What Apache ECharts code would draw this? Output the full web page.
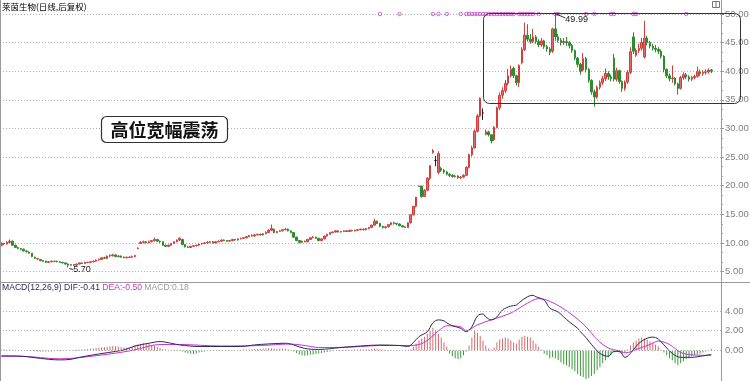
<!DOCTYPE html>
<html><head><meta charset="utf-8">
<script src="https://cdn.jsdelivr.net/npm/echarts@6/dist/echarts.min.js"></script>
<style>html,body{margin:0;padding:0;background:#fff}#c{width:750px;height:381px}</style>
</head><body><div id="c"></div>
<script>
// [open, close, low, high]
const candles = [
[9.6,9.9,9.4,10.1],[9.9,9.8,9.6,10.0],[9.8,10.1,9.7,10.3],[10.1,10.3,9.9,10.6],[10.3,9.6,9.5,10.4],[9.6,9.2,9.1,9.7],[9.2,9.0,8.9,9.3],[9.0,8.9,8.7,9.1],[8.9,8.6,8.5,9.0],[8.6,8.5,8.3,8.7],
[8.4,8.2,8.1,8.5],[8.2,7.6,7.5,8.2],[7.5,7.3,7.2,7.6],[7.2,7.25,7.0,7.3],[7.1,6.9,6.8,7.2],[6.9,6.8,6.7,7.0],[6.8,6.6,6.5,6.9],[6.6,6.7,6.5,6.8],[6.7,6.8,6.6,6.9],[6.75,6.8,6.7,6.9],
[6.8,6.7,6.6,6.9],[6.7,6.6,6.5,6.8],[6.6,6.5,6.4,6.7],[6.5,6.3,6.2,6.6],[6.3,6.1,5.7,6.4],[6.1,6.2,6.0,6.3],[6.2,6.1,6.0,6.3],[6.1,6.3,6.0,6.4],[6.3,6.5,6.2,6.6],[6.5,6.4,6.3,6.6],
[6.4,6.6,6.3,6.7],[6.55,6.6,6.5,6.7],[6.6,6.7,6.5,6.8],[6.7,6.8,6.6,6.9],[6.8,7.0,6.7,7.1],[7.0,7.1,6.9,7.3],[7.1,7.4,7.0,7.5],[7.4,7.3,7.2,7.6],[7.3,7.7,7.2,7.8],[7.7,7.8,7.5,8.0],
[7.8,7.9,7.6,8.1],[7.9,7.6,7.5,8.0],[7.6,7.7,7.5,7.9],[7.7,7.5,7.4,7.8],[7.5,7.4,7.3,7.6],[7.4,7.5,7.3,7.6],[7.45,7.5,7.4,7.7],[7.5,7.6,7.4,7.8],[7.6,7.8,7.5,7.9],[9.0,9.1,8.9,9.2],
[9.9,10.1,9.8,10.3],[10.1,10.2,9.9,10.4],[10.2,10.0,9.9,10.3],[10.0,10.2,9.9,10.4],[10.2,10.4,10.1,10.5],[10.4,10.6,10.2,10.9],[10.6,10.3,10.2,10.7],[10.3,10.2,10.0,10.4],[10.2,9.6,9.5,10.3],[9.6,9.4,9.3,9.7],
[9.4,9.6,9.3,9.7],[9.6,9.9,9.5,10.0],[9.9,10.2,9.8,10.3],[10.2,10.5,10.1,10.6],[10.5,10.8,10.3,11.0],[10.6,9.7,9.6,10.7],[9.7,9.3,9.2,9.8],[9.3,9.2,9.1,9.4],[9.2,9.4,9.1,9.5],[9.4,9.5,9.3,9.6],
[9.5,9.6,9.4,9.7],[9.6,9.8,9.5,9.9],[9.8,9.9,9.7,10.0],[9.9,10.0,9.8,10.1],[10.0,10.1,9.9,10.3],[10.1,10.2,10.0,10.3],[10.2,10.0,9.9,10.3],[10.0,10.2,9.9,10.3],[10.2,10.3,10.1,10.4],[10.3,10.5,10.2,10.6],
[10.5,10.4,10.3,10.6],[10.4,10.3,10.2,10.5],[10.3,10.4,10.2,10.5],[10.4,10.6,10.3,10.7],[10.6,10.5,10.4,10.7],[10.5,10.7,10.4,10.8],[10.7,10.8,10.6,10.9],[10.8,10.9,10.7,11.0],[10.9,11.1,10.8,11.2],[11.1,11.3,11.0,11.4],
[11.3,11.2,11.1,11.5],[11.2,11.4,11.1,11.5],[11.4,11.5,11.3,11.6],[11.5,11.4,11.3,11.6],[11.4,11.6,11.3,11.7],[11.6,11.8,11.5,12.0],[11.8,12.2,11.7,12.4],[12.2,12.5,12.1,13.2],[12.4,11.8,11.7,12.5],[11.8,12.0,11.7,12.1],
[12.0,12.1,11.9,12.2],[12.1,12.3,12.0,12.4],[12.3,12.4,12.2,12.6],[12.4,12.1,12.0,12.5],[12.1,11.8,11.7,12.2],[11.8,11.0,10.9,11.9],[11.0,10.4,10.3,11.1],[10.4,10.1,9.9,10.5],[10.1,10.3,10.0,10.4],[10.3,10.2,10.1,10.4],
[10.2,10.6,10.1,10.7],[10.6,10.9,10.5,11.0],[10.9,11.0,10.8,11.2],[11.0,10.8,10.7,11.1],[10.8,10.4,10.3,10.9],[10.4,10.7,10.3,10.8],[10.7,11.2,10.6,11.3],[11.2,11.5,11.1,11.6],[11.5,11.8,11.4,11.9],[11.8,11.9,11.7,12.0],
[11.9,12.1,11.8,12.2],[12.1,11.9,11.8,12.2],[11.9,12.0,11.8,12.1],[12.0,12.1,11.9,12.2],[12.1,12.0,11.9,12.2],[12.0,12.2,11.9,12.3],[12.2,12.1,12.0,12.3],[12.1,12.2,12.0,12.3],[12.2,12.3,12.1,12.4],[12.3,12.4,12.2,12.5],
[12.4,12.3,12.2,12.5],[12.3,12.5,12.2,12.6],[12.5,12.7,12.4,12.8],[12.7,13.1,12.6,13.2],[13.1,13.8,13.0,14.2],[13.8,13.4,13.3,13.9],[13.4,12.9,12.8,13.5],[12.9,12.7,12.5,13.0],[12.7,12.8,12.5,12.9],[12.8,13.2,12.7,13.3],
[13.2,13.5,13.1,13.6],[13.5,13.4,13.2,13.7],[13.4,13.3,13.1,13.5],[13.3,13.0,12.9,13.4],[13.0,12.8,12.7,13.1],[12.8,12.7,12.6,12.9],[12.7,13.5,12.6,13.6],[13.5,14.9,13.4,15.0],[14.9,16.4,14.8,16.4],[16.4,18.0,16.2,18.0],
[19.9,19.9,19.9,19.9],[19.9,18.1,17.9,20.0],[18.1,19.2,18.0,19.4],[19.2,21.3,19.0,21.5],[21.3,23.5,21.0,23.6],[25.8,26.1,25.6,26.4],[24.4,24.4,23.4,25.2],[22.3,25.6,22.0,26.0],[23.0,22.7,22.4,23.3],[22.7,22.4,22.1,22.9],
[22.4,22.0,21.8,22.6],[22.0,21.8,21.5,22.2],[21.8,21.6,21.4,22.0],[21.6,21.7,21.4,21.9],[21.7,21.4,21.2,21.8],[21.4,21.5,21.2,21.7],[21.5,21.8,21.3,22.0],[21.8,23.2,21.7,23.4],[23.2,25.4,23.0,25.6],[25.4,26.6,25.1,27.0],
[26.6,29.5,26.5,29.8],[29.5,32.2,29.3,32.5],[32.2,35.3,32.0,35.4],[32.7,32.7,31.5,33.5],[29.0,29.4,28.8,29.8],[29.4,28.9,28.6,29.6],[28.9,27.8,27.4,29.0],[28.0,30.2,27.8,30.4],[30.2,33.6,30.0,33.8],[33.6,35.8,33.2,36.3],
[35.8,36.6,35.2,37.2],[36.6,37.9,36.2,38.5],[37.9,39.2,37.5,40.4],[39.2,40.3,38.9,41.0],[40.5,39.2,38.8,40.8],[39.2,38.0,37.5,39.4],[38.0,41.0,37.2,41.2],[41.5,43.8,41.2,44.2],[43.8,46.3,43.5,48.5],[46.3,45.6,45.2,48.2],
[45.6,45.2,44.8,46.5],[45.2,46.0,44.9,47.4],[46.0,45.2,44.8,46.3],[45.2,44.6,44.2,45.6],[44.6,45.3,44.3,45.8],[45.3,44.3,43.9,45.5],[44.3,43.9,43.4,44.6],[43.9,43.3,42.8,44.2],[43.5,47.4,43.2,47.6],[47.4,46.0,45.3,49.99],
[46.0,45.4,45.0,46.5],[45.4,45.0,44.5,45.8],[45.0,45.2,44.6,45.8],[45.2,45.0,44.4,46.0],[45.0,44.5,44.0,45.3],[44.5,43.6,43.2,44.8],[43.6,42.3,41.9,43.8],[42.3,41.2,40.7,42.5],[41.2,40.0,39.4,41.5],[40.2,42.2,40.0,43.2],
[42.2,40.3,39.8,42.5],[40.3,38.4,38.0,40.6],[38.4,36.4,35.9,38.6],[36.4,35.5,33.8,36.8],[35.5,37.2,35.2,37.5],[37.2,38.0,36.8,38.4],[38.0,38.7,37.6,39.2],[38.7,39.6,38.3,40.5],[39.6,39.0,38.5,40.0],[39.0,38.7,38.2,39.4],
[42.3,38.6,38.2,43.0],[38.6,40.1,38.2,40.6],[40.1,38.2,37.8,40.3],[38.2,37.0,36.4,38.4],[37.0,38.1,36.6,38.4],[38.1,39.8,37.8,40.2],[39.8,43.4,39.5,44.2],[46.0,43.5,43.0,46.8],[42.8,43.6,42.5,44.0],[43.6,44.0,43.2,44.8],
[44.0,45.0,43.6,45.8],[42.5,45.8,42.2,48.8],[45.8,45.0,44.5,46.2],[45.0,44.4,44.0,45.3],[44.4,44.0,43.6,44.8],[44.0,43.8,43.3,44.6],[43.8,43.5,43.0,44.2],[43.5,42.6,42.2,43.8],[42.6,40.3,39.8,42.8],[40.3,39.2,38.8,40.5],
[39.2,38.7,38.2,39.6],[38.7,38.8,38.0,41.0],[38.8,37.8,37.5,39.0],[37.8,37.0,35.9,38.0],[37.0,38.9,36.8,39.2],[38.9,39.4,38.5,39.8],[39.4,39.0,38.6,39.7],[39.0,38.6,38.2,39.3],[38.6,38.9,38.3,39.2],[38.9,39.1,38.6,39.4],
[39.1,39.9,38.9,40.8],[39.9,39.6,39.2,40.3],[39.6,39.8,39.2,40.2],[39.8,39.9,39.4,40.3],[39.9,40.2,39.6,40.5],[40.2,40.0,39.7,40.4]
];

// MACD histogram, one value per candle
const macdHist = [
0.1,0.1,0.08,0.1,0.08,0.05,0.03,0.02,0,-0.02,-0.03,-0.05,
-0.08,-0.1,-0.1,-0.12,-0.12,-0.1,-0.1,-0.08,-0.06,-0.05,-0.04,-0.03,-0.02,0.02,0.05,0.08,
0.08,0.1,0.12,0.15,0.18,0.2,0.24,0.27,0.3,0.34,0.38,0.42,0.45,0.42,0.38,0.33,0.3,0.28,0.3,0.35,
0.5,0.6,0.68,0.72,0.7,0.65,0.55,0.45,0.35,0.25,0.15,
0.1,0.05,0.04,0.06,0.08,0.05,
-0.1,-0.2,-0.28,-0.33,-0.35,-0.3,-0.22,-0.15,
-0.1,-0.06,-0.03,-0.02,0,0.02,0.03,0.02,0.02,0.03,0.04,0.03,0.04,0.05,0.06,0.08,0.1,0.12,
0.14,0.15,0.16,0.18,0.2,0.22,0.22,0.18,0.18,0.2,0.2,0.18,0.12,0.05,
-0.1,-0.25,-0.4,-0.5,-0.55,-0.5,-0.45,-0.4,
-0.35,-0.32,-0.28,-0.22,-0.15,-0.1,-0.05,0,0.03,0.05,0.06,0.07,0.08,0.08,0.09,0.1,0.1,0.1,0.1,0.12,0.14,0.2,0.18,
0.12,0.08,0.05,0.04,0.04,0.03,0.02,-0.02,-0.05,-0.06,-0.04,0.1,
0.4,0.7,1.0,1.2,1.4,1.7,2.0,2.3,2.0,1.7,1.3,0.8,0.4,-0.3,-0.6,-0.8,-0.9,-0.8,-0.5,-0.1,
0.5,1.3,2.0,1.8,1.5,1.0,0.5,0.2,0.1,0.3,0.8,1.1,1.2,1.3,1.2,1.0,0.8,0.7,1.1,1.4,
1.5,1.4,1.3,1.0,0.7,0.4,0.1,-0.3,-0.5,-0.8,-0.7,-0.8,-1.0,-1.2,-1.4,-1.5,-1.7,-1.9,-2.1,-2.4,
-2.6,-2.7,-2.9,-2.8,-2.6,-2.4,-2.0,-1.7,-1.3,-1.0,-0.7,-0.4,-0.2,-0.1,-0.2,-0.3,-0.2,0.1,0.5,0.8,
1.0,1.2,1.3,1.2,1.1,0.9,0.8,0.6,0.4,0.1,-0.2,-0.5,-0.8,-1.0,-1.3,-1.5,-1.3,-1.1,-0.9,-0.8,
-0.6,-0.5,-0.4,-0.3,-0.2,-0.1,0.05,0.18
];

// DIF / DEA read at sampled candles
const difIndex = [0,7,11,17,21,25,28,35,41,44,48,53,57,61,64,71,79,86,91,96,102,105,109,114,122,129,136,143,146,148,150,153,155,157,159,160,162,165,167,169,171,173,174,176,178,180,183,185,186,189,191,192,195,197,200,202,204,207,208,210,212,215,218,220,222,224,227,229,232,234,236,238,241,244,248,251,255];
const difValue = [-0.55,-0.58,-0.7,-0.9,-0.96,-0.9,-0.7,-0.36,-0.1,0.05,0.45,0.73,0.9,0.73,0.56,0.4,0.4,0.4,0.56,0.66,0.73,0.56,0.2,0.1,0.3,0.45,0.55,0.5,0.4,0.8,1.4,1.9,2.8,3.1,3.0,2.8,2.5,2.25,1.9,2.4,3.5,3.7,3.4,3.1,3.4,4.1,4.5,4.6,4.85,5.45,5.6,5.45,5.1,4.3,3.9,3.4,2.9,2.25,1.9,1.3,0.6,-0.3,-0.6,-0.1,-0.1,-0.7,0.05,0.73,1.25,1.35,1.15,0.56,-0.3,-0.7,-0.7,-0.6,-0.41];
const deaIndex = [0,7,21,35,47,57,64,79,93,104,109,114,122,129,136,146,150,153,155,158,160,165,167,171,176,183,189,193,196,201,206,210,214,218,222,224,229,233,236,240,244,248,255];
const deaValue = [-0.6,-0.6,-0.85,-0.5,0.0,0.6,0.6,0.45,0.5,0.65,0.5,0.3,0.3,0.4,0.5,0.5,0.6,1.0,1.5,2.2,2.5,2.4,2.0,2.6,3.1,3.8,4.8,5.25,5.1,4.4,3.4,2.4,1.1,0.25,-0.05,-0.25,0.2,0.6,0.95,0.6,-0.2,-0.45,-0.5];

// signal markers along the top
const markerIndex = [136,143,155,157,160,165,167,168,169,170,171,172,173,174,175,176,177,178,179,180,181,182,183,184,186,187,188,189,190,191,193,199,200,210,213,219,220,227,228,246];
const markerLevel = 50;

const priceTicks = {min: 5, max: 50, interval: 5};
const macdTicks = {min: -3, max: 6, interval: 1, labels: [0, 2, 4]};
const macdLegend = {dif: -0.41, dea: -0.50, macd: 0.18};

const categories = candles.map((c, i) => String(i + 1)).concat(['', '', '']);

const RED = '#e06a6a', RED_B = '#d43d3d', GREEN = '#2e8b2e';
const LAT = "'Liberation Sans', Arial, sans-serif";
const CJK = "'Noto Sans CJK SC', sans-serif";

const chart = echarts.init(document.getElementById('c'));
chart.setOption({
  animation: false,
  backgroundColor: '#fff',
  grid: [
    {left: 0, top: 14, width: 721, height: 257.5, outerBoundsMode: 'none', containLabel: false},
    {left: 0, top: 291.3, width: 721, height: 88.7, outerBoundsMode: 'none', containLabel: false}
  ],
  xAxis: [
    {type: 'category', gridIndex: 0, data: categories, boundaryGap: true, show: false},
    {type: 'category', gridIndex: 1, data: categories, boundaryGap: true, show: false}
  ],
  yAxis: [
    {type: 'value', gridIndex: 0, position: 'right', min: priceTicks.min, max: priceTicks.max, interval: priceTicks.interval,
     axisLine: {show: false},
     axisTick: {show: true, length: 3, lineStyle: {color: '#999'}},
     minorTick: {show: true, splitNumber: 3, length: 2, lineStyle: {color: '#aaa'}},
     axisLabel: {color: '#808080', fontSize: 9.5, fontFamily: LAT, margin: 4, formatter: v => v.toFixed(2)},
     splitLine: {show: true, lineStyle: {color: '#b0b0b0', type: [1, 2], width: 1}}},
    {type: 'value', gridIndex: 1, position: 'right', min: macdTicks.min, max: macdTicks.max, interval: macdTicks.interval,
     axisLine: {show: false}, axisTick: {show: false}, splitLine: {show: false},
     axisLabel: {color: '#808080', fontSize: 9.5, fontFamily: LAT, margin: 4,
       formatter: v => macdTicks.labels.indexOf(v) >= 0 ? v.toFixed(2) : ''}}
  ],
  series: [
    {type: 'candlestick', xAxisIndex: 0, yAxisIndex: 0, data: candles, barWidth: 2,
     itemStyle: {color: RED, color0: GREEN, borderColor: RED_B, borderColor0: GREEN, borderWidth: 1, borderColorDoji: '#222'}},
    {type: 'scatter', xAxisIndex: 0, yAxisIndex: 0, data: markerIndex.map(i => [i, markerLevel]),
     symbol: 'circle', symbolSize: 3.5, itemStyle: {color: 'rgba(0,0,0,0)', borderColor: '#cc44cc', borderWidth: 1}, z: 5},
    {type: 'bar', xAxisIndex: 1, yAxisIndex: 1, data: macdHist, barWidth: 1,
     itemStyle: {color: p => p.value >= 0 ? '#d46a6a' : '#3a9a3a'},
     markLine: {silent: true, symbol: 'none', label: {show: false},
       lineStyle: {color: '#b0b0b0', type: [1, 2], width: 1},
       data: macdTicks.labels.map(v => ({yAxis: v}))}},
    {type: 'line', xAxisIndex: 1, yAxisIndex: 1, data: difIndex.map((d, k) => [d, difValue[k]]),
     smooth: 0.35, showSymbol: false, lineStyle: {color: '#2a2a60', width: 1}, z: 4},
    {type: 'line', xAxisIndex: 1, yAxisIndex: 1, data: deaIndex.map((d, k) => [d, deaValue[k]]),
     smooth: 0.35, showSymbol: false, lineStyle: {color: '#cc33cc', width: 1}, z: 3}
  ]
});

// annotations for highest high / lowest low
let hi = 0, lo = 0;
candles.forEach((c, i) => { if (c[3] > candles[hi][3]) hi = i; if (c[2] < candles[lo][2]) lo = i; });
const hp = chart.convertToPixel({xAxisIndex: 0, yAxisIndex: 0}, [hi, candles[hi][3]]);
const lp = chart.convertToPixel({xAxisIndex: 0, yAxisIndex: 0}, [lo, candles[lo][2]]);

const txt = (x, y, text, font, fill, align, extra) => Object.assign({
  type: 'text', x: x, y: y, z: 100,
  style: {text: text, font: font, fill: fill, align: align || 'left', verticalAlign: 'middle',
          textAlign: align || 'left', textVerticalAlign: 'middle'}
}, extra || {});
const line = (x1, y1, x2, y2, color) => ({type: 'line', z: 90, shape: {x1, y1, x2, y2}, style: {stroke: color, lineWidth: 1}});

chart.setOption({
  graphic: [
    line(0.5, 0, 0.5, 381, '#999'),
    line(721.5, 0, 721.5, 381, '#999'),
    line(0, 282.5, 750, 282.5, '#999'),
    txt(2, 7, '莱茵生物(日线,后复权)', '8.5px ' + CJK, '#000'),
    {type: 'rect', z: 100, shape: {x: 712.5, y: 1.5, width: 7, height: 6}, style: {fill: 'none', stroke: '#777', lineWidth: 1}},
    line(716, 1.5, 716, 7.5, '#777'),
    {type: 'rect', z: 80, shape: {x: 0, y: 283, width: 720, height: 9}, style: {fill: '#fff'}},
    {type: 'text', x: 2, y: 288, z: 100, style: {
      text: '{a|MACD(12,26,9) DIF:' + macdLegend.dif.toFixed(2) + '} {b|DEA:' + macdLegend.dea.toFixed(2) + '} {c|MACD:' + macdLegend.macd.toFixed(2) + '}',
      font: '8.6px ' + LAT, verticalAlign: 'middle', textVerticalAlign: 'middle',
      rich: {a: {fill: '#2a2a60', fontSize: 8.6, fontFamily: LAT}, b: {fill: '#cc33cc', fontSize: 8.6, fontFamily: LAT}, c: {fill: '#999', fontSize: 8.6, fontFamily: LAT}}}},
    {type: 'rect', z: 95, shape: {x: 483.5, y: 13.5, width: 257, height: 90, r: 6}, style: {fill: 'none', stroke: '#333', lineWidth: 1}},
    {type: 'rect', z: 95, shape: {x: 101.5, y: 116.5, width: 126, height: 26, r: 5}, style: {fill: '#fff', stroke: '#333', lineWidth: 1.2}},
    txt(164.5, 130, '高位宽幅震荡', 'bold 18px ' + CJK, '#111', 'center'),
    line(hp[0] + 1, hp[1], hp[0] + 10, hp[1] + 4, '#333'),
    txt(hp[0] + 10, hp[1] + 5, candles[hi][3].toFixed(2), '9px ' + LAT, '#222'),
    line(lp[0] + 1, lp[1] + 1, lp[0] + 5, lp[1] + 2, '#333'),
    txt(lp[0] + 5, lp[1] + 2, candles[lo][2].toFixed(2), '9px ' + LAT, '#222')
  ]
});
</script>
</body></html>
